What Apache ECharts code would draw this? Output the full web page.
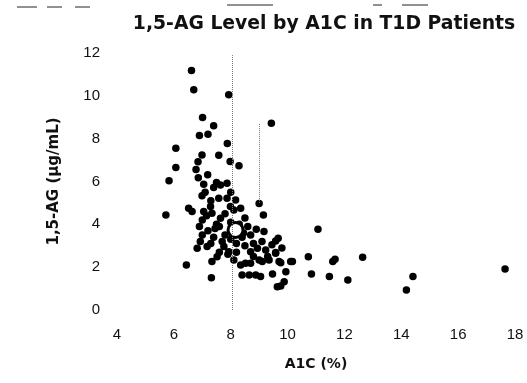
<!DOCTYPE html>
<html>
<head>
<meta charset="utf-8">
<script src="https://cdn.jsdelivr.net/npm/echarts@6/dist/echarts.min.js"></script>
<style>
  html, body { margin: 0; padding: 0; background: #fff; }
  #chart { width: 527px; height: 383px; }
</style>
</head>
<body>
<div id="chart"></div>
<script>
// A1C (%) per patient
const a1c = [
  6.62, 6.70, 7.93, 9.43, 7.01, 7.40, 6.90, 7.20, 6.07, 7.88, 6.99, 7.58, 6.07, 6.85, 7.98, 8.29,
  6.78, 5.83, 6.86, 7.19, 7.05, 7.40, 7.64, 7.87, 7.50, 7.10, 6.99, 7.58, 7.87, 8.17, 9.00, 7.30, 8.00,
  6.52, 6.64, 7.05, 7.29, 7.34, 7.99, 8.11, 8.35, 5.72, 7.64, 9.15, 7.80, 8.50, 7.00, 7.50, 6.90,
  7.20, 7.60, 8.00, 8.30, 8.60, 8.90, 9.17, 11.07, 7.00, 7.40, 7.80, 8.00, 8.40, 8.70, 9.58, 9.67,
  9.45, 6.93, 7.17, 6.82, 7.76, 7.93, 8.20, 8.50, 8.70, 8.94, 9.23, 9.58, 9.10, 7.30, 7.70, 8.80,
  6.44, 7.34, 7.52, 8.11, 8.35, 8.52, 8.70, 9.00, 9.11, 9.35, 9.58, 9.70, 10.11, 9.76, 10.17, 10.73,
  11.59, 11.67, 12.64, 7.32, 8.40, 8.65, 8.88, 9.05, 9.47, 9.94, 9.88, 9.76, 9.64, 10.84, 11.47,
  12.12, 14.41, 14.18, 17.65, 7.90, 8.20, 7.60, 8.80, 9.30, 8.10, 8.45, 7.15, 7.45, 9.80
];
// 1,5-AG (µg/mL) per patient
const ag = [
  11.18, 10.28, 10.05, 8.72, 8.99, 8.60, 8.15, 8.21, 7.55, 7.78, 7.24, 7.22, 6.65, 6.92, 6.93, 6.74,
  6.56, 6.03, 6.17, 6.32, 5.87, 5.72, 5.84, 5.92, 5.95, 5.50, 5.34, 5.22, 5.22, 5.14, 4.97, 5.10, 5.50,
  4.75, 4.60, 4.60, 4.83, 4.52, 4.83, 4.67, 4.75, 4.44, 4.28, 4.44, 4.50, 4.30, 4.20, 4.00, 3.90,
  3.70, 3.90, 4.10, 4.00, 3.90, 3.77, 3.66, 3.77, 3.50, 3.40, 3.50, 3.30, 3.40, 3.50, 3.22, 3.35,
  3.05, 3.20, 2.96, 2.88, 2.96, 2.72, 3.10, 3.00, 2.72, 2.88, 2.80, 2.68, 3.20, 3.10, 3.20, 3.10,
  2.10, 2.26, 2.49, 2.34, 2.10, 2.18, 2.18, 2.34, 2.26, 2.34, 2.65, 2.26, 2.26, 2.21, 2.26, 2.49,
  2.26, 2.37, 2.46, 1.51, 1.64, 1.64, 1.64, 1.56, 1.68, 1.79, 1.32, 1.12, 1.09, 1.68, 1.56,
  1.40, 1.56, 0.93, 1.92, 2.60, 2.70, 2.70, 2.50, 2.50, 3.70, 3.60, 4.40, 3.80, 2.90
];
// group mean marker
const meanPoint = [8.17, 3.74];
// dotted reference lines: [x, yFrom, yTo]
const refLines = [[8.05, 0, 11.9], [9.0, 5.0, 8.7]];

const xTicks = { min: 4, max: 18, interval: 2 };
const yTicks = { min: 0, max: 12, interval: 2 };

const points = a1c.map((x, i) => [x, ag[i]]);

const myChart = echarts.init(document.getElementById('chart'));
const option = {
  animation: false,
  title: {
    text: '1,5-AG Level by A1C in T1D Patients',
    left: 319,
    top: 10,
    textAlign: 'center',
    textStyle: { fontFamily: 'DejaVu Sans', fontSize: 18.8, fontWeight: 'bold', color: '#111' }
  },
  grid: { left: 117, right: 12, top: 53, bottom: 73 },
  xAxis: {
    type: 'value',
    min: xTicks.min, max: xTicks.max, interval: xTicks.interval,
    name: 'A1C (%)',
    nameLocation: 'middle',
    nameGap: 47,
    nameTextStyle: { fontFamily: 'DejaVu Sans', fontSize: 14, fontWeight: 'bold', color: '#111', verticalAlign: 'top' },
    axisLine: { show: false },
    axisTick: { show: false },
    splitLine: { show: false },
    axisLabel: { margin: 17, fontFamily: 'Liberation Sans', fontSize: 15, color: '#111' }
  },
  yAxis: {
    type: 'value',
    min: yTicks.min, max: yTicks.max, interval: yTicks.interval,
    name: '1,5-AG (µg/mL)',
    nameLocation: 'middle',
    nameGap: 55,
    nameTextStyle: { fontFamily: 'DejaVu Sans', fontSize: 15, fontWeight: 'bold', color: '#111' },
    axisLine: { show: false },
    axisTick: { show: false },
    splitLine: { show: false },
    axisLabel: { margin: 17, fontFamily: 'Liberation Sans', fontSize: 15, color: '#111' }
  },
  series: [
    {
      type: 'scatter',
      data: points,
      symbol: 'circle',
      symbolSize: 7.5,
      itemStyle: { color: '#000', opacity: 1 },
      markLine: {
        silent: true,
        symbol: 'none',
        label: { show: false },
        lineStyle: { type: 'dotted', color: '#777', width: 1 },
        data: refLines.map(l => [{ coord: [l[0], l[1]] }, { coord: [l[0], l[2]] }])
      }
    },
    {
      type: 'scatter',
      data: [meanPoint],
      symbol: 'circle',
      symbolSize: 15,
      itemStyle: { color: '#fff', borderColor: '#000', borderWidth: 3, opacity: 1 }
    }
  ],
  graphic: [
    { type: 'line', shape: { x1: 17, y1: 7, x2: 37, y2: 7 }, style: { stroke: '#222', lineWidth: 1 } },
    { type: 'line', shape: { x1: 47, y1: 7, x2: 62, y2: 7 }, style: { stroke: '#222', lineWidth: 1 } },
    { type: 'line', shape: { x1: 75, y1: 7, x2: 90, y2: 7 }, style: { stroke: '#222', lineWidth: 1 } },
    { type: 'line', shape: { x1: 227, y1: 5, x2: 273, y2: 5 }, style: { stroke: '#222', lineWidth: 1 } },
    { type: 'line', shape: { x1: 373, y1: 5, x2: 382, y2: 5 }, style: { stroke: '#222', lineWidth: 1 } },
    { type: 'line', shape: { x1: 402, y1: 5, x2: 428, y2: 5 }, style: { stroke: '#222', lineWidth: 1 } }
  ]
};
myChart.setOption(option);
window.addEventListener('resize', function () {
  myChart.resize();
});
</script>
</body>
</html>
